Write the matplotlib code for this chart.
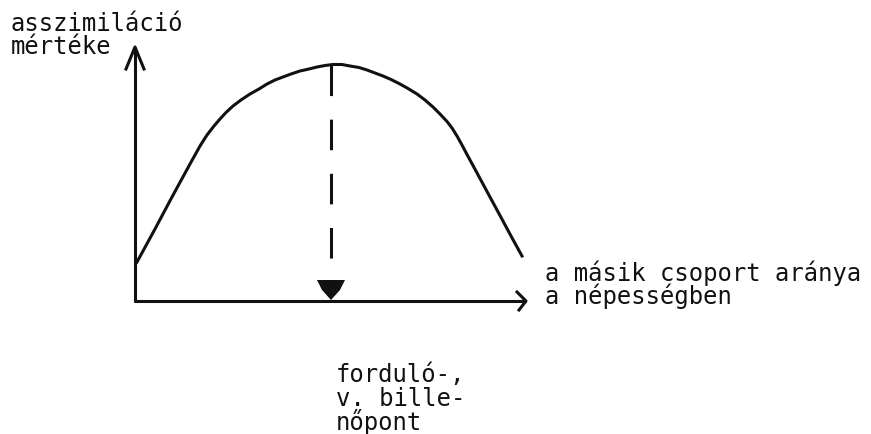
import matplotlib
matplotlib.use('Agg')
import matplotlib.pyplot as plt
import numpy as np

plt.rcParams['lines.scale_dashes'] = False

# curve: distance from the y axis / height above the x axis (px)
curve_x = [2, 20, 37, 55, 65, 72, 79, 85, 91, 98, 106, 115, 124, 132, 140, 148, 156, 165,
           174, 182, 190, 198, 207, 215, 224, 232, 240, 248, 256, 265, 273, 282, 290,
           298, 305, 312, 317, 322, 327, 332, 338, 352, 365, 376, 387]
curve_y = [39, 72, 104, 137, 155, 166, 175, 182, 188.5, 195, 201, 207, 212, 217, 221, 224, 227, 230,
           232, 234, 235.5, 236.5, 236.5, 235, 233.5, 231, 228, 225, 221.5, 217, 212.5, 207, 201,
           194, 187, 179.5, 173, 165, 156, 146.5, 135.5, 109.5, 85.5, 65, 45]

peak_x = 196          # turning point marked by the dashed arrow
peak_top = 236
arrow_base = 21       # top of the filled arrowhead

y_label = ['asszimiláció', 'mértéke']
x_label = ['a másik csoport aránya', 'a népességben']
point_label = ['forduló-,', 'v. bille-', 'nőpont']

W, H = 871, 435
ox, oy = 135, 302     # origin of the drawn axes, in pixels
x_end, y_end = 391, 254

fig = plt.figure(figsize=(W / 100, H / 100), dpi=100)
ax = fig.add_axes([0, 0, 1, 1])
ax.set_xlim(-ox, W - ox)
ax.set_ylim(oy - H, oy)
ax.axis('off')

ink = '#111111'
lw = 2.2

# axes with open arrowheads
ax.plot([0, 0], [-1, y_end], color=ink, lw=lw, solid_capstyle='butt')
ax.plot([-9, 0, 9], [y_end - 22, y_end, y_end - 22], color=ink, lw=lw)
ax.plot([-1, x_end], [0, 0], color=ink, lw=lw, solid_capstyle='butt')
ax.plot([x_end - 9, x_end, x_end - 7], [9, 0, -9], color=ink, lw=lw)

# curve
ax.plot(curve_x, curve_y, color=ink, lw=lw, solid_joinstyle='round')

# dashed drop line to the turning point + filled arrowhead
ax.plot([peak_x, peak_x], [peak_top, arrow_base + 2], color=ink, lw=lw,
        linestyle=(0, (22, 17)), solid_capstyle='butt')
ax.fill([peak_x - 14, peak_x + 14, peak_x + 9, peak_x, peak_x - 9],
        [arrow_base, arrow_base, arrow_base - 10, 1, arrow_base - 10],
        color=ink, lw=0)

font = dict(family='DejaVu Sans Mono', fontsize=17.2, color=ink, va='baseline', ha='left')
for i, s in enumerate(y_label):
    ax.text(-124, 271 - i * 23, s, **font)
for i, s in enumerate(x_label):
    ax.text(410, 21 - i * 23, s, **font)
for i, s in enumerate(point_label):
    ax.text(201, -80 - i * 24, s, **font)

plt.savefig('out.png', dpi=100, facecolor='white')
